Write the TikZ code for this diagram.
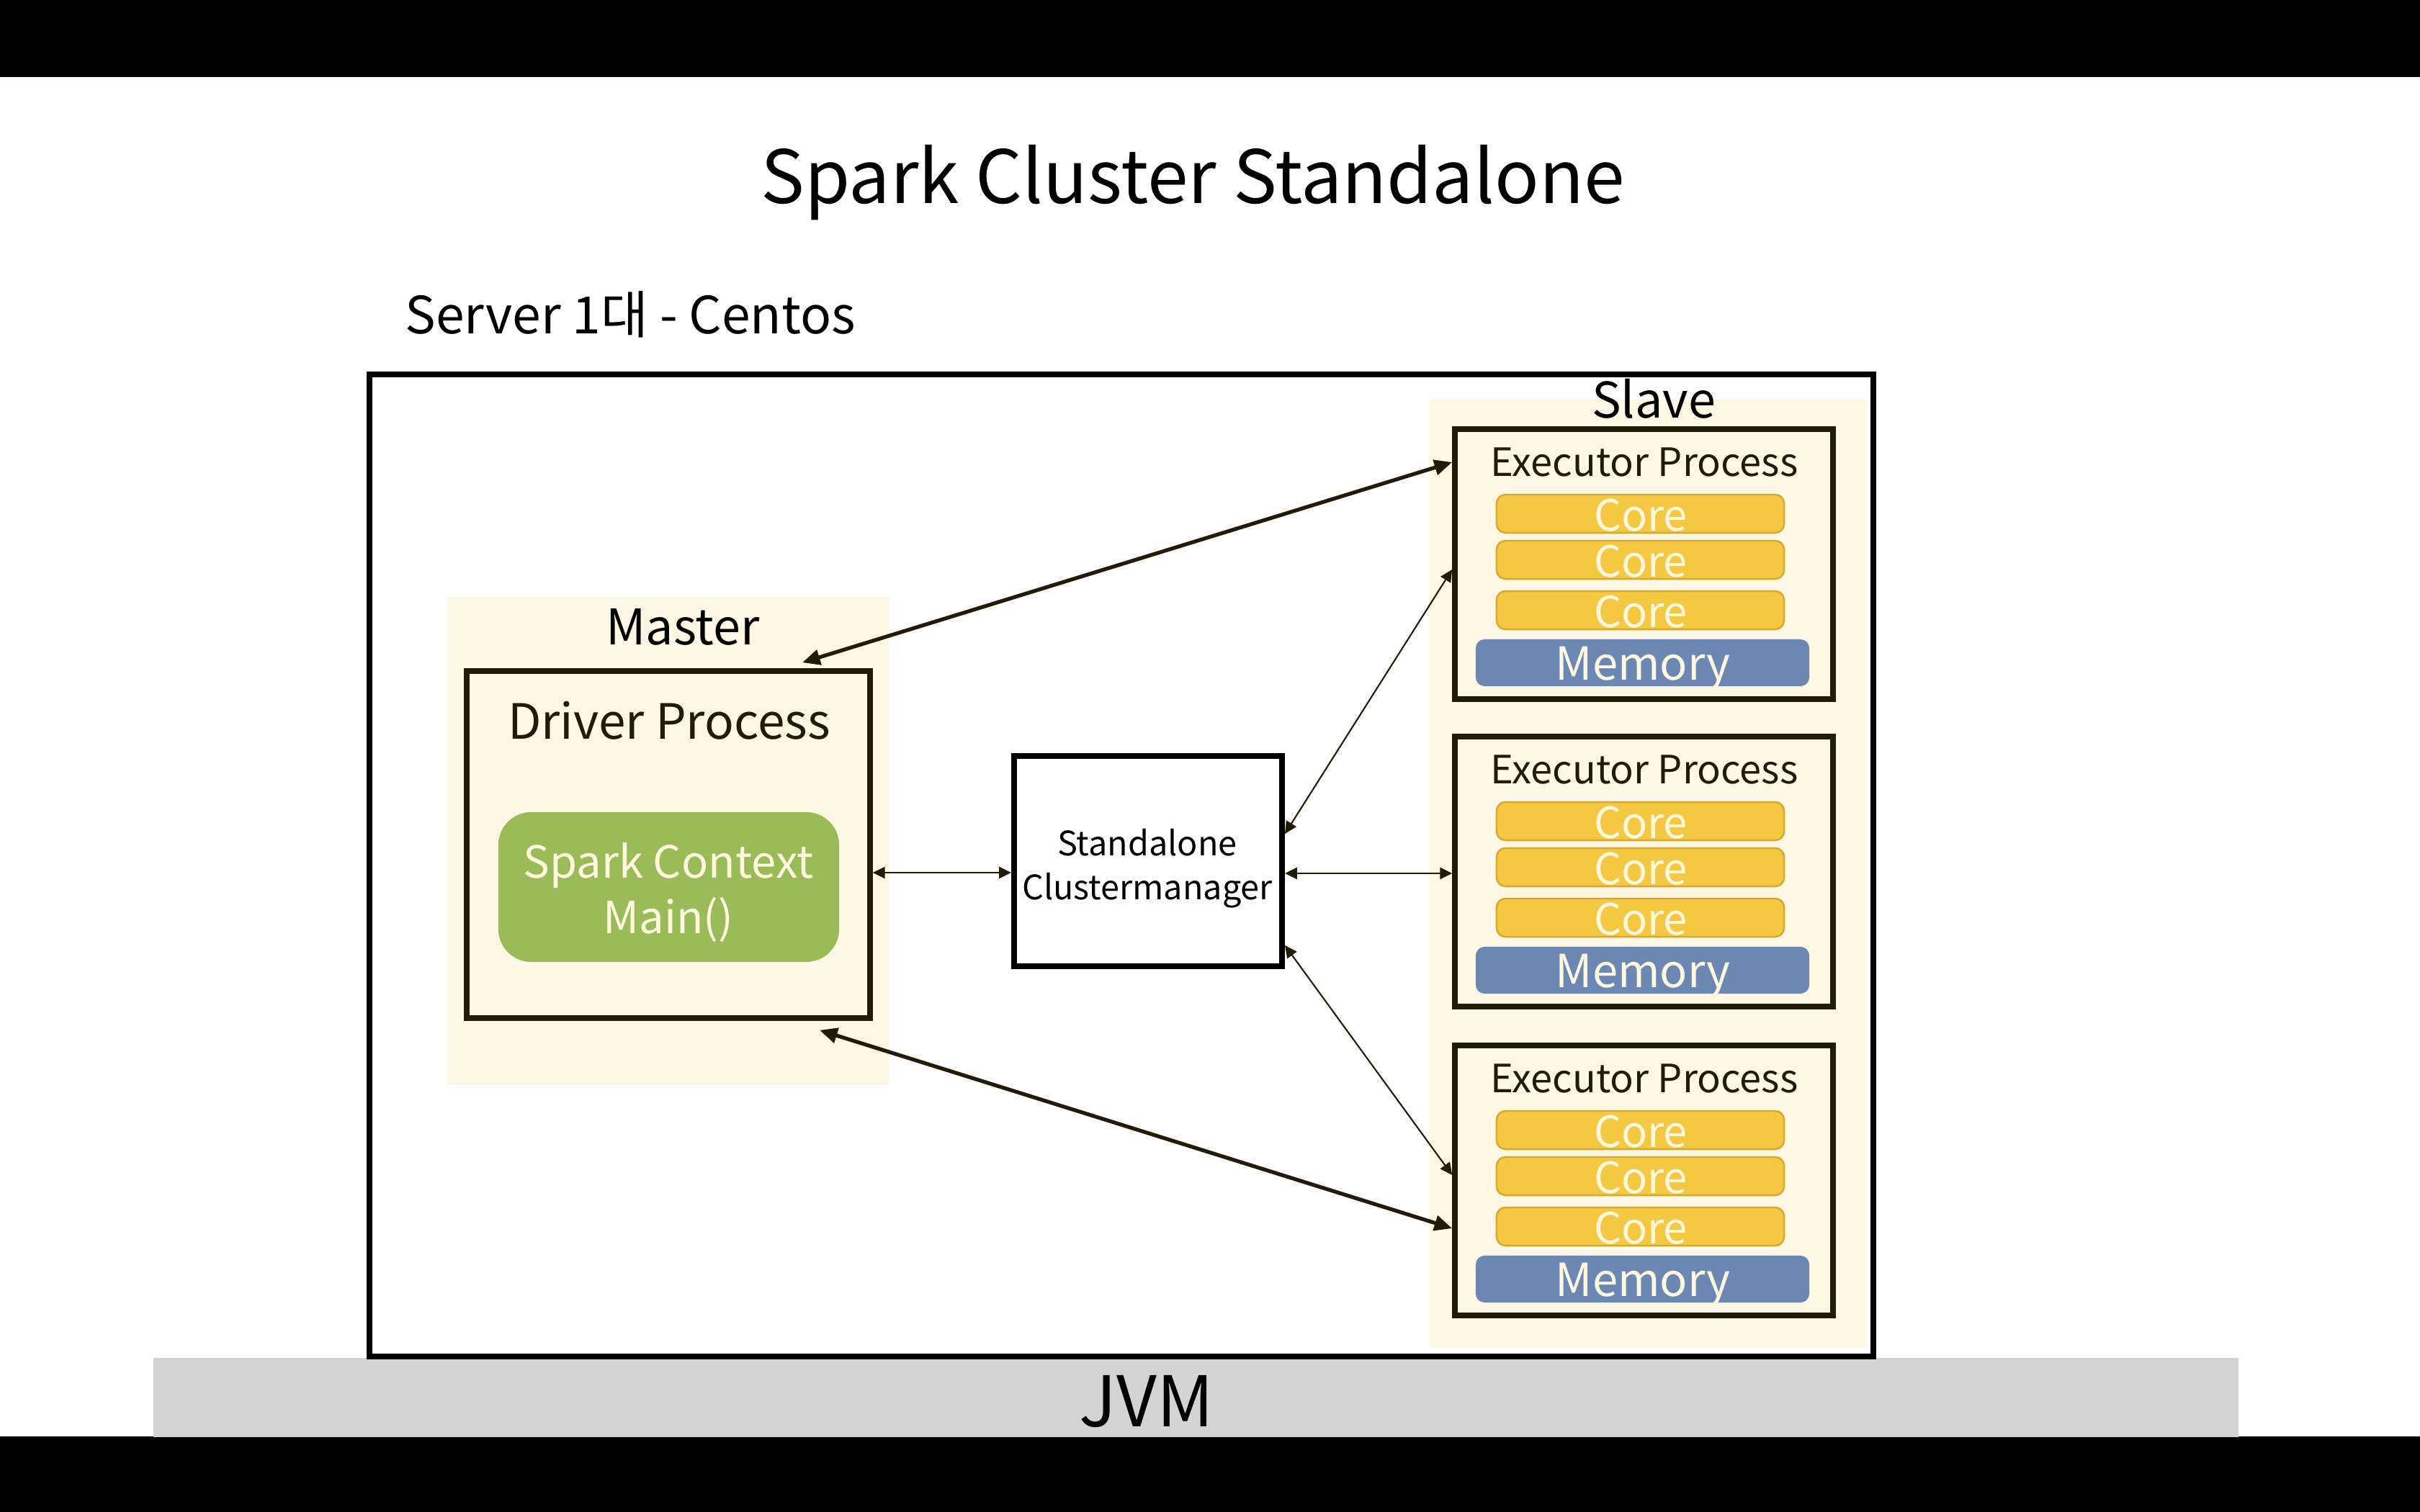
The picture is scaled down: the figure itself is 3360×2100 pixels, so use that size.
\documentclass[tikz,border=0pt]{standalone}
\usepackage{fontspec}
\setmainfont{Noto Sans CJK KR}
\usetikzlibrary{arrows.meta,calc}
\definecolor{cream}{RGB}{255,247,228}
\definecolor{dk}{RGB}{35,26,8}
\definecolor{sgreen}{RGB}{155,187,89}
\definecolor{gold}{RGB}{245,200,66}
\definecolor{goldline}{RGB}{214,168,46}
\definecolor{mblue}{RGB}{106,136,179}
\definecolor{ltxt}{RGB}{255,248,222}
\definecolor{jvmgray}{RGB}{211,211,211}
\newcommand\myfs[1]{\fontsize{#1pt}{#1pt}\selectfont}
\tikzset{
  plain/.style={inner sep=0pt, outer sep=0pt},
  bgzone/.style={plain, fill=cream},
  procbox/.style={draw=dk, line width=2.1pt, fill=cream, inner sep=0pt},
  cmbox/.style={draw=black, line width=2.2pt, fill=white, inner sep=0pt},
  corebox/.style={draw=goldline, line width=0.7pt, fill=gold, rounded corners=3.5pt, inner sep=0pt,
     minimum width=3.99cm, minimum height=0.53cm},
  membox/.style={fill=mblue, rounded corners=3.5pt, inner sep=0pt, minimum width=4.63cm, minimum height=0.65cm},
  lbl/.style={inner sep=0pt, anchor=base, text=dk},
  wlbl/.style={inner sep=0pt, anchor=base, text=ltxt},
  thinarrow/.style={draw=dk, line width=0.6pt, {Triangle[length=4.8pt,width=4.6pt]}-{Triangle[length=4.8pt,width=4.6pt]}},
  thickarrow/.style={draw=dk, line width=1.5pt, {Triangle[length=7pt,width=6pt]}-{Triangle[length=7pt,width=6pt]}},
}
\begin{document}
\begin{tikzpicture}[x=0.01cm,y=-0.01cm]
\useasboundingbox (0,0) rectangle (3360,2100);
\fill[white] (0,0) rectangle (3360,2100);
\fill[black] (0,0) rectangle (3360,107);
\fill[black] (0,1995) rectangle (3360,2100);

% title
\node[lbl, text=black, font=\myfs{29}] (title) at (1656,283) {Spark Cluster Standalone};
\node[lbl, text=black, anchor=base west, font=\myfs{20.3}] (server) at (562,463) {Server 1대 - Centos};

% JVM band and server box
\node[plain, fill=jvmgray, minimum width=28.93cm, minimum height=1.10cm] (jvm) at (1660.5,1941) {};
\node[lbl, text=black, font=\myfs{27.6}] (jvmtxt) at (1592,1981) {JVM};
\node[draw=black, line width=2.3pt, fill=white, inner sep=0pt, minimum width=20.86cm, minimum height=13.64cm] (serverbox) at (1557,1202) {};

% zones
\node[bgzone, minimum width=6.13cm, minimum height=6.78cm] (masterbg) at (927.5,1168) {};
\node[bgzone, minimum width=6.08cm, minimum height=13.17cm] (slavebg) at (2288,1213.5) {};
\node[lbl, text=black, font=\myfs{19.4}] (master) at (948,895) {Master};
\node[lbl, text=black, font=\myfs{19.4}] (slave) at (2296,580) {Slave};

% driver
\node[procbox, minimum width=5.60cm, minimum height=4.82cm] (driver) at (928,1173) {};
\node[lbl, font=\myfs{19.2}] (drivertxt) at (929,1026) {Driver Process};
\node[plain, fill=sgreen, rounded corners=13pt, minimum width=4.73cm, minimum height=2.08cm] (spark) at (928.5,1232) {};
\node[wlbl, font=\myfs{17.5}] (sparktxt) at (928,1219) {Spark Context};
\node[wlbl, font=\myfs{17.5}] (maintxt) at (928,1296) {Main()};

% cluster manager
\node[cmbox, minimum width=3.72cm, minimum height=2.92cm] (cm) at (1594,1196) {};
\node[lbl, text=black, font=\myfs{13.3}] (cmtxt1) at (1593,1188) {Standalone};
\node[lbl, text=black, font=\myfs{13.3}] (cmtxt2) at (1593,1249) {Clustermanager};

% executors
\foreach \i/\t in {1/596,2/1023,3/1452}{
  \node[procbox, minimum width=5.25cm, minimum height=3.75cm] (e\i) at (2282.5,\t+187.5) {};
  \node[lbl, font=\myfs{15.4}] (et\i) at (2283,\t+65) {Executor Process};
  \node[corebox] (ca\i) at (2277.5,\t+117.5) {};
  \node[corebox] (cb\i) at (2277.5,\t+181.5) {};
  \node[corebox] (cc\i) at (2277.5,\t+251.5) {};
  \node[wlbl, font=\myfs{17}] (cta\i) at (2278,\t+141) {Core};
  \node[wlbl, font=\myfs{17}] (ctb\i) at (2278,\t+205) {Core};
  \node[wlbl, font=\myfs{17}] (ctc\i) at (2278,\t+275) {Core};
  \node[membox] (m\i) at (2280.5,\t+324.5) {};
  \node[wlbl, font=\myfs{18}] (mt\i) at (2281,\t+348) {Memory};
}

% connectors
\draw[thickarrow] ($(driver.north)+(186,-8)$) -- ($(e1.west)+(0,-141.5)$);
\draw[thickarrow] ($(driver.south)+(210,13)$) -- ($(e3.west)+(0,66.5)$);
\draw[thinarrow] ($(driver.east)+(0,39)$) -- ($(cm.west)+(0,16)$);
\draw[thinarrow] ($(cm.east)+(0,17)$) -- ($(e2.west)+(0,2.5)$);
\draw[thinarrow] ($(cm.east)+(0,-38)$) -- ($(e1.west)+(0,7.5)$);
\draw[thinarrow] ($(cm.east)+(0,117)$) -- ($(e3.west)+(0,-7.5)$);
\end{tikzpicture}
\end{document}
